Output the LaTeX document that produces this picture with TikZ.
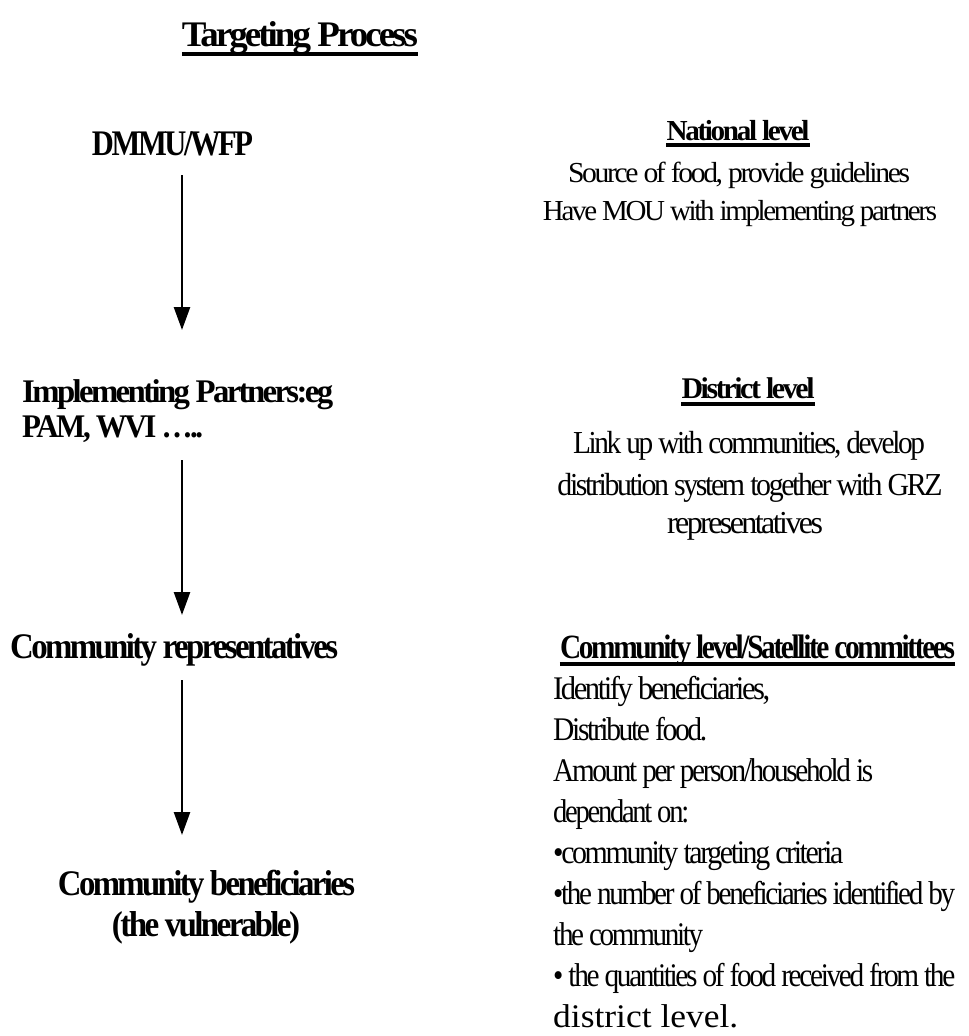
\documentclass[tikz,border=0pt]{standalone}
\usepackage{fontspec}
\usepackage{graphicx}
\setmainfont{Liberation Serif}[LetterSpace=-8]
\newfontfamily\plainserif{Liberation Serif}
\usetikzlibrary{arrows.meta}

% size, width, text
\newcommand\sqz[3]{{\fontsize{#1}{#1}\selectfont\resizebox{#2pt}{\height}{#3}}}

\begin{document}
\begin{tikzpicture}[x=1pt,y=-1pt,
  txt/.style={inner sep=0pt,anchor=base},
  ltxt/.style={inner sep=0pt,anchor=base west},
  uline/.style={line width=3.5pt},
  flow/.style={line width=2.5pt,-{Triangle[width=16pt,length=23pt]}}]
\useasboundingbox (0,0) rectangle (969,1036);

%Title
\node (title) at (300,46) [txt] {\sqz{36}{236}{\bfseries Targeting Process}};
\draw[uline] ([yshift=-8pt]title.base west) -- ([yshift=-8pt]title.base east);

%Left column
\coordinate (spine) at (182,0);
\node (dmmu) at (172.5,155) [txt] {\sqz{36}{161}{\bfseries DMMU/WFP}};
\node (impl) at (22,402) [ltxt] {\sqz{33}{311}{\bfseries Implementing Partners:eg}};
\node (pam) at (22,437) [ltxt] {\sqz{33}{181}{\bfseries PAM, WVI …..}};
\node (reps) at (10,658) [ltxt] {\sqz{36}{328}{\bfseries Community representatives}};
\node (benef) at (206.5,895) [txt] {\sqz{36}{297}{\bfseries Community beneficiaries}};
\node (vuln) at (206,936) [txt] {\sqz{36}{188}{\bfseries (the vulnerable)}};

\draw[flow] ([yshift=-20pt]dmmu.base -| spine) -- ([yshift=72pt]impl.base -| spine);
\draw[flow] ([yshift=-23pt]pam.base -| spine) -- ([yshift=43pt]reps.base -| spine);
\draw[flow] ([yshift=-22pt]reps.base -| spine) -- ([yshift=60pt]benef.base -| spine);

%National level
\node (natl) at (738,140) [txt] {\sqz{29}{143}{\bfseries National level}};
\draw[uline] ([yshift=-5pt]natl.base west) -- ([yshift=-5pt]natl.base east);
\node (natl1) at (739,182) [txt] {\sqz{29}{342}{Source of food, provide guidelines}};
\node (natl2) at (740,220) [txt] {\sqz{29}{394}{Have MOU with implementing partners}};

%District level
\node (dist) at (748,398) [txt] {\sqz{30}{133}{\bfseries District level}};
\draw[uline] ([yshift=-6pt]dist.base west) -- ([yshift=-6pt]dist.base east);
\node (dist1) at (749,453) [txt] {\sqz{32}{352}{Link up with communities, develop}};
\node (dist2) at (750,495) [txt] {\sqz{32}{385}{distribution system together with GRZ}};
\node (dist3) at (745,533) [txt] {\sqz{32}{156}{representatives}};

%Community level
\node (comm) at (757.5,658) [txt] {\sqz{34}{395}{\bfseries Community level/Satellite committees}};
\draw[uline] ([yshift=-6pt]comm.base west) -- ([yshift=-6pt]comm.base east);
\foreach \w/\t [count=\i from 0] in {217/{Identify beneficiaries,}, 154/{Distribute food.},
    320/{Amount per person/household is}, 136/{dependant on:}, 290/{•community targeting criteria},
    402/{•the number of beneficiaries identified by}, 150/{the community},
    402/{• the quantities of food received from the}, 185/{\plainserif district level.}}
  \node (comm\i) at (553,{699+41.1*\i}) [ltxt] {\sqz{33}{\w}{\t}};
\end{tikzpicture}
\end{document}
